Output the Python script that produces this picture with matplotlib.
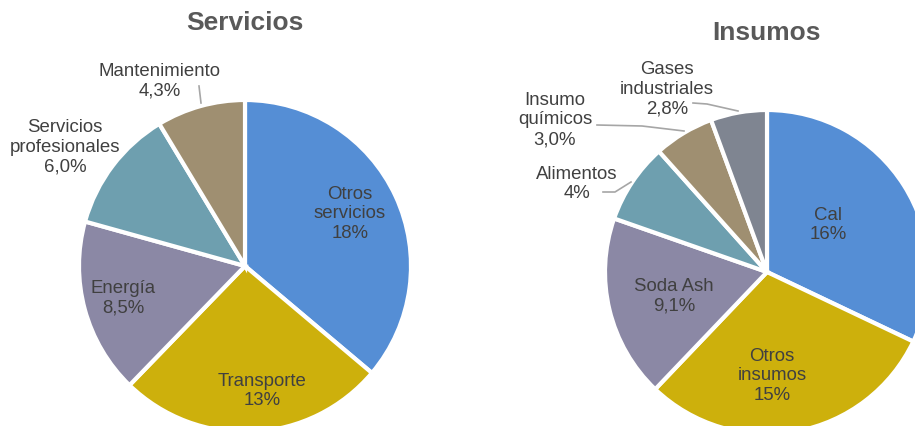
import numpy as np
import matplotlib
matplotlib.use("Agg")
import matplotlib.pyplot as plt

plt.rcParams['font.family'] = ['Liberation Sans', 'DejaVu Sans']

# Servicios
serv_labels = ['Otros\nservicios', 'Transporte', 'Energía', 'Servicios\nprofesionales', 'Mantenimiento']
serv_values = [18, 13, 8.5, 6.0, 4.3]
serv_text = ['18%', '13%', '8,5%', '6,0%', '4,3%']

# Insumos
ins_labels = ['Cal', 'Otros\ninsumos', 'Soda Ash', 'Alimentos', 'Insumo\nquímicos', 'Gases\nindustriales']
ins_values = [16, 15, 9.1, 4, 3.0, 2.8]
ins_text = ['16%', '15%', '9,1%', '4%', '3,0%', '2,8%']

serv_colors = ['#558ED5', '#CDB00C', '#8B88A5', '#6E9FAF', '#9F8F71']
ins_colors = ['#558ED5', '#CDB00C', '#8B88A5', '#6E9FAF', '#9F8F71', '#7F8591']

W, H = 915, 426
fig = plt.figure(figsize=(W / 100, H / 100), dpi=100)
ax = fig.add_axes([0, 0, 1, 1])

txt_color = '#404040'


def draw_pie(values, colors, center, radius):
    # y axis is inverted below, so counterclock=True ends up clockwise on screen
    wedges, _ = ax.pie(values, colors=colors, startangle=-90, counterclock=True,
                       center=center, radius=radius,
                       wedgeprops=dict(edgecolor='white', linewidth=3),
                       frame=True)
    return wedges


draw_pie(serv_values, serv_colors, (245, 266), 166)
draw_pie(ins_values, ins_colors, (767, 272), 162)
ax.set_xlim(0, W)
ax.set_ylim(H, 0)
ax.set_aspect('equal')
ax.axis('off')

# label positions (pixel layout)
serv_pos = [(350, 214), (262, 391), (123, 298), (65, 147), (160, 81)]
ins_pos = [(828, 225), (772, 376), (674, 296), (577, 184), (555, 120), (667, 89)]

for lab, t, p in zip(serv_labels, serv_text, serv_pos):
    ax.text(p[0], p[1], lab + '\n' + t, ha='center', va='center', fontsize=13.4,
            color=txt_color, linespacing=1.22)
for lab, t, p in zip(ins_labels, ins_text, ins_pos):
    ax.text(p[0], p[1], lab + '\n' + t, ha='center', va='center', fontsize=13.4,
            color=txt_color, linespacing=1.22)

# leader lines
lc = '#A6A6A6'
ax.plot([199, 201], [86, 103], color=lc, lw=1.2)
ax.plot([693, 707, 738], [103, 104, 111], color=lc, lw=1.2)
ax.plot([597, 642, 684], [125, 126, 131], color=lc, lw=1.2)
ax.plot([603, 615, 631], [192, 192, 182], color=lc, lw=1.2)

ax.text(245, 23, 'Servicios', ha='center', va='center', fontsize=19,
        fontweight='bold', color='#595959')
ax.text(766, 33, 'Insumos', ha='center', va='center', fontsize=19,
        fontweight='bold', color='#595959')

fig.savefig('out.png', dpi=100)
